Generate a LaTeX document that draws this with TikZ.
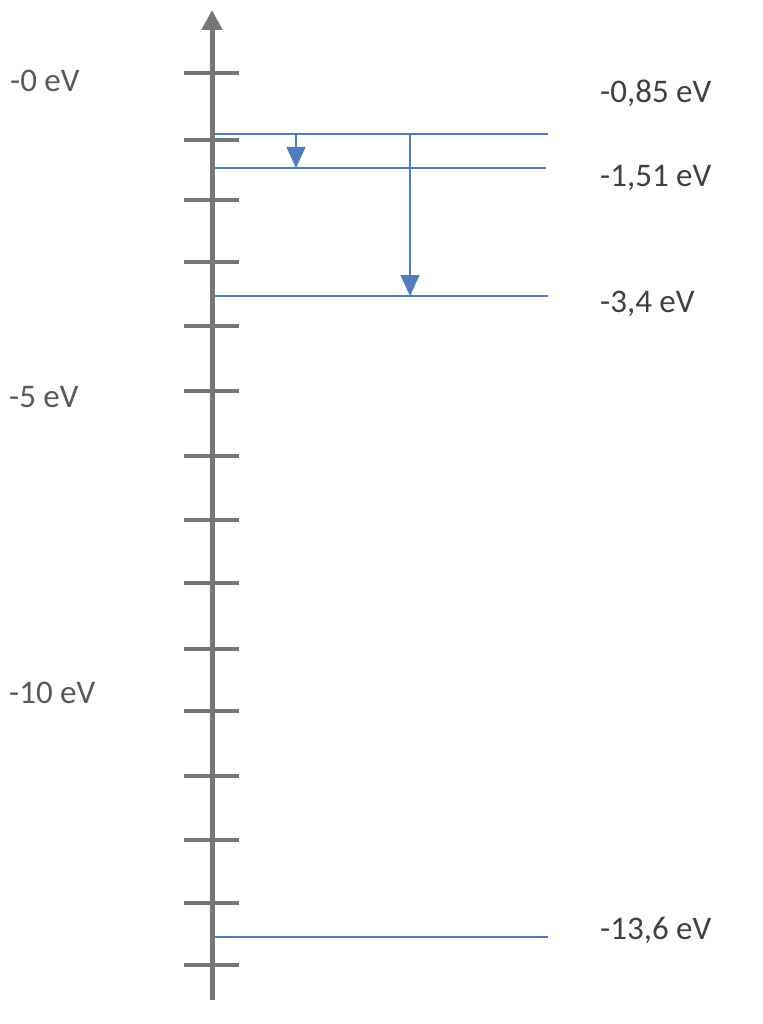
\documentclass[tikz,border=0pt]{standalone}
\usepackage{fontspec}
\setmainfont{Carlito}
\usetikzlibrary{arrows.meta}
\definecolor{axisgray}{RGB}{118,118,118}
\definecolor{levelblue}{RGB}{79,125,190}
\definecolor{leftlab}{RGB}{89,89,89}
\definecolor{rightlab}{RGB}{64,64,64}
\tikzset{
  axisline/.style={draw=axisgray, line width=5pt, -{Triangle[width=20pt,length=20pt]}},
  tickline/.style={draw=axisgray, line width=4pt},
  levelline/.style={draw=levelblue, line width=1.4pt},
  transarrow/.style={draw=levelblue, fill=levelblue, line width=1.4pt, -{Triangle[width=19pt,length=21pt]}},
  leftlabel/.style={anchor=base west, inner sep=0pt, text=leftlab, font=\fontsize{33}{36}\selectfont},
  rightlabel/.style={anchor=base west, inner sep=0pt, text=rightlab, font=\fontsize{33}{36}\selectfont}
}
\begin{document}
\begin{tikzpicture}[x=1pt,y=-1pt]
\useasboundingbox (0,0) rectangle (762,1024);
\fill[white] (0,0) rectangle (762,1024);
% axis
\coordinate (axbot) at (212,1000);
\coordinate (axtop) at (212,10);
\draw[axisline] (axbot) -- (axtop);
% ticks
\foreach \i/\y in {0/73,1/140,2/200,3/262,4/326,5/391,6/456,7/520,8/583,9/649,10/711,11/776,12/840,13/903,14/965}{
  \coordinate (tl\i) at (184,\y);
  \coordinate (tr\i) at (239,\y);
  \draw[tickline] (tl\i) -- (tr\i);
}
% levels
\coordinate (l4a) at (215,134); \coordinate (l4b) at (548,134);
\coordinate (l3a) at (215,168); \coordinate (l3b) at (546,168);
\coordinate (l2a) at (215,296); \coordinate (l2b) at (548,296);
\coordinate (l1a) at (215,937); \coordinate (l1b) at (548,937);
\draw[levelline] (l4a) -- (l4b);
\draw[levelline] (l3a) -- (l3b);
\draw[levelline] (l2a) -- (l2b);
\draw[levelline] (l1a) -- (l1b);
% transitions
\coordinate (t1s) at (296,134); \coordinate (t1e) at (296,168);
\coordinate (t2s) at (410,134); \coordinate (t2e) at (410,296);
\draw[transarrow] (t1s) -- (t1e);
\draw[transarrow] (t2s) -- (t2e);
% left labels
\node[leftlabel] (e0) at (10,92) {-0 eV};
\node[leftlabel] (e5) at (9,407) {-5 eV};
\node[leftlabel] (e10) at (9,703) {-10 eV};
% right labels
\node[rightlabel] (r4) at (600,103) {-0,85 eV};
\node[rightlabel] (r3) at (600,187) {-1,51 eV};
\node[rightlabel] (r2) at (600,312) {-3,4 eV};
\node[rightlabel] (r1) at (600,939) {-13,6 eV};
\end{tikzpicture}
\end{document}
